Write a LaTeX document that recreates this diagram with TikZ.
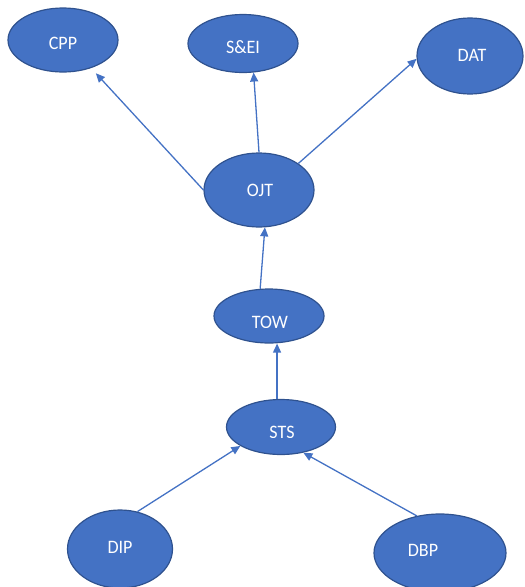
\documentclass[tikz,border=0pt]{standalone}
\usepackage{fontspec}
\setmainfont{Carlito}
\usetikzlibrary{shapes.geometric,arrows.meta}
\definecolor{fillblue}{HTML}{4472C4}
\definecolor{edgeblue}{HTML}{2F528F}
\begin{document}
\begin{tikzpicture}[x=1pt,y=-1pt,
  oval/.style={ellipse,draw=edgeblue,line width=1.2pt,fill=fillblue,inner sep=0pt},
  lbl/.style={text=white,font=\fontsize{19}{22}\selectfont,inner sep=0pt,xscale=0.95},
  conn/.style={draw=fillblue,line width=1.3pt,-{Triangle[length=9pt,width=8pt]}}]
\useasboundingbox (0,0) rectangle (525,587);
% ellipses
\node[oval,minimum width=110pt,minimum height=64pt] (cpp) at (63,40) {};
\node[oval,minimum width=110pt,minimum height=58pt] (sei) at (243,43.5) {};
\node[oval,minimum width=106pt,minimum height=76pt] (dat) at (470,56) {};
\node[oval,minimum width=110pt,minimum height=74pt] (ojt) at (259,190) {};
\node[oval,minimum width=110pt,minimum height=54pt] (tow) at (269,316) {};
\node[oval,minimum width=109pt,minimum height=55pt] (sts) at (281,427) {};
\node[oval,minimum width=105pt,minimum height=78pt] (dip) at (120,549) {};
\node[oval,minimum width=132pt,minimum height=78pt] (dbp) at (440,553) {};
% labels
\node[lbl] (cppT) at (63,43) {CPP};
\node[lbl] (seiT) at (243,47) {S\&EI};
\node[lbl] (datT) at (472,55) {DAT};
\node[lbl] (ojtT) at (260,190) {OJT};
\begin{scope}
\clip (200,300) rectangle (340,327);
\node[lbl] (towT) at (270,322) {TOW};
\end{scope}
\begin{scope}
\clip (200,410) rectangle (340,437);
\node[lbl] (stsT) at (282,432) {STS};
\end{scope}
\node[lbl] (dipT) at (120,547) {DIP};
\node[lbl] (dbpT) at (423,550) {DBP};
% connectors
\draw[conn,shorten >=7pt] (ojt.west) -- (cpp.-45);
\draw[conn] (ojt.north) -- (sei.-70);
\draw[conn] (ojt.34) -- (dat.183);
\draw[conn] (tow.108) -- (ojt.-81);
\draw[conn] (sts.98) -- (sts.98 |- tow.south);
\draw[conn] (dip.65) -- (sts.-155);
\draw[conn] (dbp.122) -- (sts.-49);
\end{tikzpicture}
\end{document}
